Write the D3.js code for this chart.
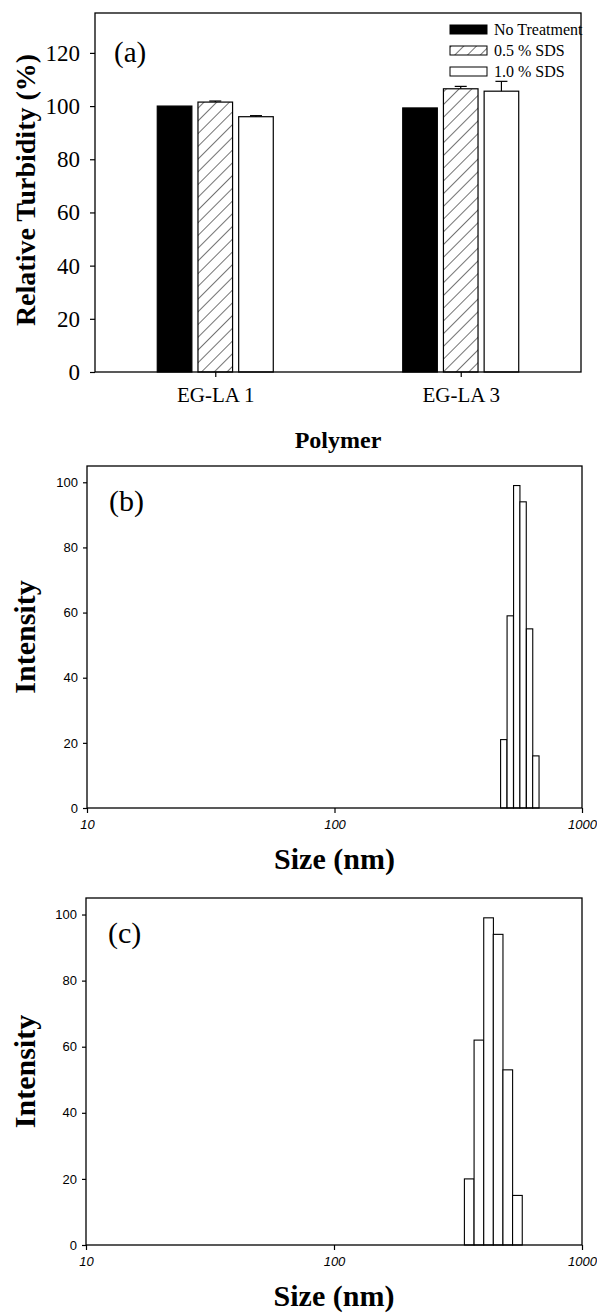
<!DOCTYPE html>
<html>
<head>
<meta charset="utf-8">
<script src="https://cdn.jsdelivr.net/npm/d3@7"></script>
<style>
  body { margin: 0; background: #fff; }
  svg { display: block; }
</style>
</head>
<body>
<svg></svg>
<script>
// panel (a) data
const groups = ["EG-LA 1", "EG-LA 3"];
const treatments = ["No Treatment", "0.5 % SDS", "1.0 % SDS"];
const turbidity = [
  [100, 101.5, 96],
  [99.3, 106.5, 105.6],
];
const turbidityErr = [
  [0, 0.4, 0.4],
  [0, 0.9, 3.7],
];
const turbidityTicks = [0, 20, 40, 60, 80, 100, 120];

// panel (b) and (c) data (bin centre size in nm, intensity)
const sizeB = [483, 513, 545, 578, 614, 651];
const intensityB = [21, 59, 99, 94, 55, 16];
const binRatioB = 1.061;

const sizeC = [351, 384, 420, 459, 502, 549];
const intensityC = [20, 62, 99, 94, 53, 15];
const binRatioC = 1.094;

const sizeTicks = [10, 100, 1000];
const intensityTicks = [0, 20, 40, 60, 80, 100];

const width = 597;
const height = 1314;
const serif = "'Liberation Serif', 'Times New Roman', serif";
const sans = "'Liberation Sans', Arial, sans-serif";

const svg = d3.select("svg").attr("width", width).attr("height", height);

const defs = svg.append("defs");
defs
  .append("pattern")
  .attr("id", "hatch")
  .attr("patternUnits", "userSpaceOnUse")
  .attr("width", 9)
  .attr("height", 9)
  .attr("patternTransform", "rotate(45)")
  .call((p) => {
    p.append("rect").attr("width", 9).attr("height", 9).attr("fill", "#fff");
    p.append("line")
      .attr("x1", 0)
      .attr("y1", 0)
      .attr("x2", 0)
      .attr("y2", 9)
      .attr("stroke", "#000")
      .attr("stroke-width", 1.1);
  });

const fills = ["#000", "url(#hatch)", "#fff"];

const styleAxis = (g, font, size, italic) => {
  g.select(".domain").remove();
  g.selectAll(".tick line").attr("stroke", "#000").attr("stroke-width", 1.2);
  g.selectAll(".tick text")
    .attr("fill", "#000")
    .style("font-family", font)
    .style("font-size", size + "px")
    .style("font-style", italic ? "italic" : "normal");
};

// ---------- panel (a) ----------
const drawPanelA = () => {
  const left = 95, right = 581, top = 13, bottom = 372;

  const xScale = d3.scalePoint().domain(groups).range([left, right]).padding(0.49);
  const subScale = d3.scaleBand().domain(treatments).range([-58, 58]).paddingInner(0.15);
  const yScale = d3.scaleLinear().domain([0, 135]).range([bottom, top]);

  const g = svg.append("g");

  const rows = [];
  groups.forEach((grp, i) => {
    treatments.forEach((t, j) => {
      rows.push({ grp: grp, t: t, j: j, v: turbidity[i][j], e: turbidityErr[i][j] });
    });
  });

  g.selectAll("rect.bar")
    .data(rows)
    .enter()
    .append("rect")
    .attr("class", "bar")
    .attr("x", (d) => xScale(d.grp) + subScale(d.t))
    .attr("y", (d) => yScale(d.v))
    .attr("width", subScale.bandwidth())
    .attr("height", (d) => yScale(0) - yScale(d.v))
    .attr("fill", (d) => fills[d.j])
    .attr("stroke", "#000")
    .attr("stroke-width", 1.2);

  // error bars (upper only)
  const errs = g.selectAll("g.err").data(rows.filter((d) => d.e > 0)).enter().append("g");
  errs.append("line")
    .attr("x1", (d) => xScale(d.grp) + subScale(d.t) + subScale.bandwidth() / 2)
    .attr("x2", (d) => xScale(d.grp) + subScale(d.t) + subScale.bandwidth() / 2)
    .attr("y1", (d) => yScale(d.v))
    .attr("y2", (d) => yScale(d.v + d.e))
    .attr("stroke", "#000")
    .attr("stroke-width", 1.2);
  errs.append("line")
    .attr("x1", (d) => xScale(d.grp) + subScale(d.t) + subScale.bandwidth() / 2 - 6)
    .attr("x2", (d) => xScale(d.grp) + subScale(d.t) + subScale.bandwidth() / 2 + 6)
    .attr("y1", (d) => yScale(d.v + d.e))
    .attr("y2", (d) => yScale(d.v + d.e))
    .attr("stroke", "#000")
    .attr("stroke-width", 1.2);

  // frame
  g.append("rect")
    .attr("x", left)
    .attr("y", top)
    .attr("width", right - left)
    .attr("height", bottom - top)
    .attr("fill", "none")
    .attr("stroke", "#000")
    .attr("stroke-width", 1.3);

  g.append("g")
    .attr("transform", "translate(" + left + ",0)")
    .call(d3.axisLeft(yScale).tickValues(turbidityTicks).tickSize(5).tickPadding(10))
    .call((a) => styleAxis(a, serif, 23, false));

  g.append("g")
    .attr("transform", "translate(0," + bottom + ")")
    .call(d3.axisBottom(xScale).tickSize(5).tickPadding(10))
    .call((a) => styleAxis(a, serif, 21, false));

  // legend
  treatments.forEach((t, j) => {
    const ly = 25 + j * 21;
    g.append("rect")
      .attr("x", 450)
      .attr("y", ly)
      .attr("width", 37)
      .attr("height", 9)
      .attr("fill", fills[j])
      .attr("stroke", "#000")
      .attr("stroke-width", 1);
    g.append("text")
      .attr("x", 494)
      .attr("y", ly + 4.5)
      .attr("dy", "0.35em")
      .style("font-family", serif)
      .style("font-size", "16px")
      .text(t);
  });

  g.append("text")
    .attr("x", 114)
    .attr("y", 52)
    .attr("dy", "0.35em")
    .style("font-family", serif)
    .style("font-size", "29px")
    .text("(a)");

  g.append("text")
    .attr("transform", "translate(25," + 190 + ") rotate(-90)")
    .attr("text-anchor", "middle")
    .attr("dy", "0.35em")
    .style("font-family", serif)
    .style("font-size", "28px")
    .style("font-weight", "bold")
    .text("Relative Turbidity (%)");

  g.append("text")
    .attr("x", (left + right) / 2)
    .attr("y", 440)
    .attr("text-anchor", "middle")
    .attr("dy", "0.35em")
    .style("font-family", serif)
    .style("font-size", "24px")
    .style("font-weight", "bold")
    .text("Polymer");
};

// ---------- panels (b) and (c) ----------
const drawHist = (box, sizes, values, ratio, label) => {
  const xScale = d3.scaleLog().domain([10, 1000]).range([box.left, box.right]);
  const yScale = d3.scaleLinear().domain([0, 105]).range([box.bottom, box.top]);
  const half = Math.sqrt(ratio);

  const g = svg.append("g");

  g.selectAll("rect.bar")
    .data(sizes)
    .enter()
    .append("rect")
    .attr("class", "bar")
    .attr("x", (s) => xScale(s / half))
    .attr("y", (s, i) => yScale(values[i]))
    .attr("width", (s) => xScale(s * half) - xScale(s / half))
    .attr("height", (s, i) => yScale(0) - yScale(values[i]))
    .attr("fill", "#fff")
    .attr("stroke", "#000")
    .attr("stroke-width", 1.1);

  g.append("rect")
    .attr("x", box.left)
    .attr("y", box.top)
    .attr("width", box.right - box.left)
    .attr("height", box.bottom - box.top)
    .attr("fill", "none")
    .attr("stroke", "#000")
    .attr("stroke-width", 1.3);

  g.append("g")
    .attr("transform", "translate(" + box.left + ",0)")
    .call(d3.axisLeft(yScale).tickValues(intensityTicks).tickSize(4).tickPadding(5))
    .call((a) => styleAxis(a, sans, 13, false));

  g.append("g")
    .attr("transform", "translate(0," + box.bottom + ")")
    .call(d3.axisBottom(xScale).tickValues(sizeTicks).tickFormat(d3.format("d")).tickSize(5).tickPadding(7))
    .call((a) => styleAxis(a, sans, 13, true));

  g.append("text")
    .attr("x", box.left + 22)
    .attr("y", box.top + 34)
    .attr("dy", "0.35em")
    .style("font-family", serif)
    .style("font-size", "30px")
    .text(label);

  g.append("text")
    .attr("transform", "translate(24," + (box.top + box.bottom) / 2 + ") rotate(-90)")
    .attr("text-anchor", "middle")
    .attr("dy", "0.35em")
    .style("font-family", serif)
    .style("font-size", "30px")
    .style("font-weight", "bold")
    .text("Intensity");

  g.append("text")
    .attr("x", (box.left + box.right) / 2)
    .attr("y", box.bottom + 50)
    .attr("text-anchor", "middle")
    .attr("dy", "0.35em")
    .style("font-family", serif)
    .style("font-size", "30px")
    .style("font-weight", "bold")
    .text("Size (nm)");
};

drawPanelA();
drawHist({ left: 87, right: 582, top: 466, bottom: 808 }, sizeB, intensityB, binRatioB, "(b)");
drawHist({ left: 86, right: 582, top: 898, bottom: 1245 }, sizeC, intensityC, binRatioC, "(c)");
</script>
</body>
</html>
